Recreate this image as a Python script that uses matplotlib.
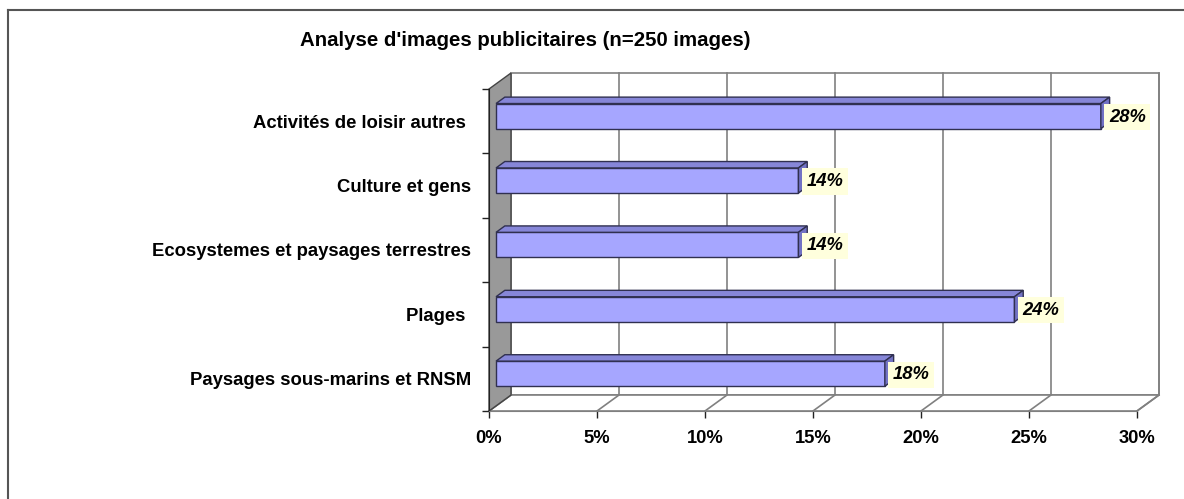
import matplotlib
matplotlib.use("Agg")
import matplotlib.pyplot as plt
from matplotlib.patches import Polygon
from matplotlib.lines import Line2D
from matplotlib.transforms import IdentityTransform
import numpy as np

# ---- data ----
title = "Analyse d'images publicitaires (n=250 images)"
categories = ['Paysages sous-marins et RNSM', 'Plages ',
              'Ecosystemes et paysages terrestres', 'Culture et gens',
              'Activités de loisir autres ']
values = [18, 24, 14, 14, 28]
xticks = [0, 5, 10, 15, 20, 25, 30]
xticklabels = ['0%', '5%', '10%', '15%', '20%', '25%', '30%']

FONT = ['Liberation Sans', 'DejaVu Sans']
plt.rcParams['font.family'] = FONT

W, H, DPI = 1184, 499, 100
fig = plt.figure(figsize=(W / DPI, H / DPI), dpi=DPI)
fig.patch.set_facecolor('white')

# front plane of the 3D box
ax = fig.add_axes([489 / W, (H - 411) / H, (1137 - 489) / W, (411 - 89) / H])
ax.set_xlim(0, 30)
ax.set_ylim(-0.5, len(categories) - 0.5)
ax.patch.set_visible(False)

DEPTH = np.array([22.0, 16.0])   # display offset of the back wall
BAR_F, BAR_B = 0.32, 0.72        # bar front / back depth fraction
BAR_H = 0.39


def P(x, y, d):
    p = ax.transData.transform((x, y))
    return p + d * DEPTH


def poly(pts, **kw):
    patch = Polygon(np.array(pts), closed=True, transform=IdentityTransform(),
                    clip_on=False, **kw)
    ax.add_artist(patch)
    return patch


def line(p0, p1, **kw):
    l = Line2D([p0[0], p1[0]], [p0[1], p1[1]], transform=IdentityTransform(),
               clip_on=False, **kw)
    ax.add_artist(l)


ymin, ymax = -0.5, len(categories) - 0.5
xmax = xticks[-1]
grid_c = '#808080'

# back wall
poly([P(0, ymin, 1), P(xmax, ymin, 1), P(xmax, ymax, 1), P(0, ymax, 1)],
     facecolor='white', edgecolor=grid_c, lw=1.2, zorder=1)
for t in xticks[1:]:
    line(P(t, ymin, 1), P(t, ymax, 1), color=grid_c, lw=1.2, zorder=1.1)
# floor
poly([P(0, ymin, 0), P(xmax, ymin, 0), P(xmax, ymin, 1), P(0, ymin, 1)],
     facecolor='white', edgecolor=grid_c, lw=1.2, zorder=1.2)
for t in xticks:
    line(P(t, ymin, 0), P(t, ymin, 1), color=grid_c, lw=1.2, zorder=1.3)
# left wall
poly([P(0, ymin, 0), P(0, ymax, 0), P(0, ymax, 1), P(0, ymin, 1)],
     facecolor='#999999', edgecolor='#444444', lw=1.0, zorder=1.4)

# bars
c_front, c_top, c_side, c_edge = '#A6A6FF', '#8686D8', '#7272C4', '#303050'
for i, v in enumerate(values):
    y0, y1 = i - BAR_H / 2, i + BAR_H / 2
    poly([P(0, y0, BAR_F), P(v, y0, BAR_F), P(v, y1, BAR_F), P(0, y1, BAR_F)],
         facecolor=c_front, edgecolor=c_edge, lw=1.0, zorder=3)
    poly([P(0, y1, BAR_F), P(v, y1, BAR_F), P(v, y1, BAR_B), P(0, y1, BAR_B)],
         facecolor=c_top, edgecolor=c_edge, lw=1.0, zorder=3)
    poly([P(v, y0, BAR_F), P(v, y0, BAR_B), P(v, y1, BAR_B), P(v, y1, BAR_F)],
         facecolor=c_side, edgecolor=c_edge, lw=1.0, zorder=3)
    px, py = P(v, i, BAR_F)
    ax.text(px + 8, py - 1, f'{v}%', transform=IdentityTransform(),
            ha='left', va='center', fontsize=13.2, fontweight='bold',
            fontstyle='italic', color='black', zorder=5,
            bbox=dict(boxstyle='square,pad=0.25', facecolor='#FFFFDD',
                      edgecolor='none'))

# axes: ticks and labels
for s in ['top', 'right']:
    ax.spines[s].set_visible(False)
ax.spines['left'].set_color('#222222')
ax.spines['bottom'].set_color(grid_c)
ax.spines['left'].set_zorder(2)
ax.set_xticks(xticks)
ax.set_xticklabels(xticklabels, fontsize=13.2, fontweight='bold')
ax.tick_params(axis='x', length=5, width=1, color='#222222', pad=9)
ax.set_yticks(range(len(categories)))
ax.set_yticklabels(categories, fontsize=13.3, fontweight='bold')
ax.set_yticks(np.arange(-0.5, len(categories), 1.0), minor=True)
ax.tick_params(axis='y', which='major', length=0, pad=13)
ax.tick_params(axis='y', which='minor', length=5, width=1, color='#222222')

# title
fig.text(525 / W, 1 - 41 / H, title, ha='center', va='center',
         fontsize=14.7, fontweight='bold')

# chart-area border (top and left edges visible)
fig.add_artist(Line2D([8 / W, 1.0], [1 - 10 / H, 1 - 10 / H],
                      transform=fig.transFigure, color='#555555', lw=1.5))
fig.add_artist(Line2D([8 / W, 8 / W], [0, 1 - 10 / H],
                      transform=fig.transFigure, color='#555555', lw=1.5))

fig.savefig('out.png', dpi=DPI)
